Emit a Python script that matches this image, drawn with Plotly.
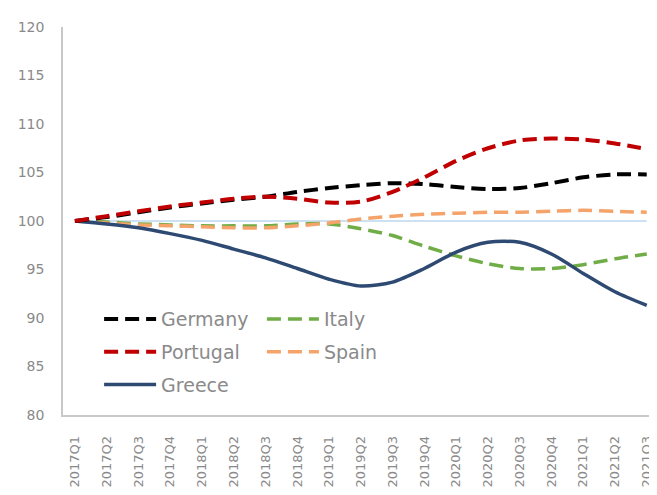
import plotly.graph_objects as go

quarters = ["2017Q1","2017Q2","2017Q3","2017Q4","2018Q1","2018Q2","2018Q3","2018Q4",
            "2019Q1","2019Q2","2019Q3","2019Q4","2020Q1","2020Q2","2020Q3","2020Q4",
            "2021Q1","2021Q2","2021Q3"]

germany  = [100.0,100.4,100.9,101.4,101.8,102.2,102.5,103.0,103.4,103.7,103.9,103.8,103.5,103.3,103.4,103.9,104.5,104.8,104.8]
portugal = [100.0,100.5,101.0,101.5,101.9,102.3,102.5,102.3,101.9,102.0,103.0,104.5,106.2,107.5,108.3,108.5,108.4,108.0,107.4]
italy    = [100.0,99.9,99.7,99.6,99.5,99.5,99.5,99.7,99.7,99.2,98.5,97.4,96.4,95.6,95.1,95.1,95.5,96.1,96.6]
spain    = [100.0,99.8,99.6,99.5,99.4,99.3,99.3,99.5,99.8,100.2,100.5,100.7,100.8,100.9,100.9,101.0,101.1,101.0,100.9]
greece   = [100.0,99.7,99.3,98.7,98.0,97.1,96.2,95.1,94.0,93.3,93.7,95.1,96.8,97.8,97.8,96.6,94.6,92.7,91.3]
baseline = [100.0]*len(quarters)

font_family = "'DejaVu Sans', sans-serif"
grey = "#8a8a8a"

fig = go.Figure()
fig.add_trace(go.Scatter(x=quarters, y=baseline, mode="lines", showlegend=False,
                         line=dict(color="#9dc3e6", width=1.2), hoverinfo="skip"))

series = [
    ("Italy", italy, "#70ad47", "14px,7px", 3.5, "legend2"),
    ("Spain", spain, "#f4a46a", "14px,7px", 3.5, "legend2"),
    ("Greece", greece, "#2e4a72", "solid", 3.5, "legend"),
    ("Germany", germany, "#000000", "14px,7px", 4, "legend"),
    ("Portugal", portugal, "#c00000", "14px,7px", 4, "legend"),
]
rank = {"Germany": 1, "Portugal": 2, "Greece": 3, "Italy": 1, "Spain": 2}
for name, vals, col, dash, w, lg in series:
    fig.add_trace(go.Scatter(x=quarters, y=vals, mode="lines", name=name,
                             line=dict(color=col, width=w, dash=dash, shape="spline", smoothing=0.8),
                             legend=lg, legendrank=rank[name], legendgroup=name))

legend_common = dict(bgcolor="rgba(0,0,0,0)", font=dict(family=font_family, size=19, color=grey),
                     orientation="v", yanchor="top", xanchor="left", itemwidth=52,
                     tracegroupgap=5)
fig.update_layout(
    width=649, height=487,
    margin=dict(l=55, r=2, t=19, b=80, autoexpand=False),
    paper_bgcolor="white", plot_bgcolor="white",
    font=dict(family=font_family, color=grey),
    legend=dict(x=0.061, y=0.296, **legend_common),
    legend2=dict(x=0.336, y=0.296, **legend_common),
    xaxis=dict(type="category", range=[-0.375, 18.26], showgrid=False, showline=True,
               linecolor="#c8c8c8", linewidth=1.5, tickangle=-90, ticks="", automargin=False,
               ticklabelstandoff=14,
               tickfont=dict(size=13, color=grey, family=font_family)),
    yaxis=dict(range=[80, 120], dtick=5, showgrid=False, showline=True, linecolor="#c8c8c8",
               linewidth=1.5, ticks="", zeroline=False, automargin=False,
               ticklabelstandoff=14,
               tickfont=dict(size=14, color=grey, family=font_family)),
)
fig.write_html("out.html")
